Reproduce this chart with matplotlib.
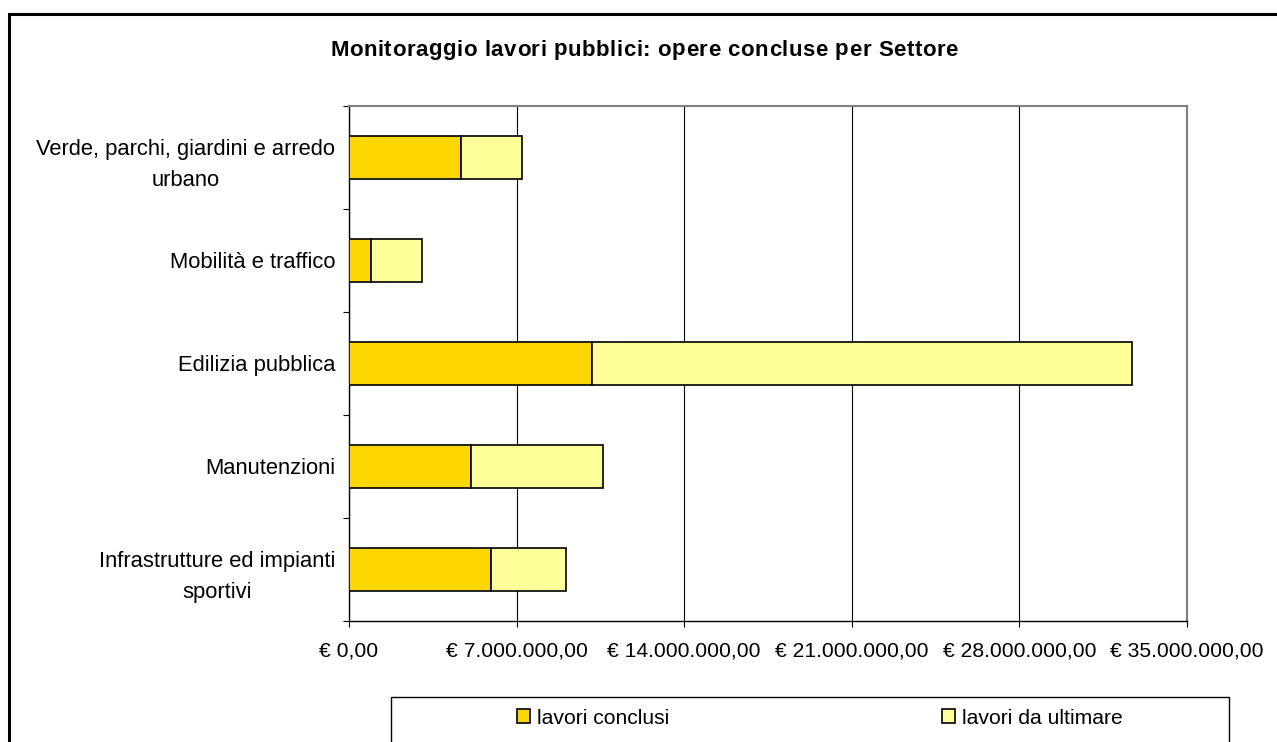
import matplotlib.pyplot as plt
from matplotlib.patches import Rectangle
from matplotlib.ticker import FuncFormatter, FixedLocator

# Dati (dal basso verso l'alto, come in Excel)
settori = ["Infrastrutture ed impianti\nsportivi", "Manutenzioni", "Edilizia pubblica",
           "Mobilità e traffico", "Verde, parchi, giardini e arredo\nurbano"]
lavori_conclusi = [5930000, 5100000, 10150000, 920000, 4680000]
lavori_da_ultimare = [3130000, 5510000, 22550000, 2130000, 2550000]
x_ticks = [0, 7000000, 14000000, 21000000, 28000000, 35000000]
titolo = "Monitoraggio lavori pubblici: opere concluse per Settore"

plt.rcParams['font.family'] = ['Liberation Sans', 'DejaVu Sans']

W, H = 1277, 742
fig = plt.figure(figsize=(W / 100, H / 100), dpi=100)

# Cornice esterna del grafico
fig.patches.append(Rectangle((9 / W, -0.1), 1.2, 1 - 14 / H + 0.1, transform=fig.transFigure,
                             fill=False, edgecolor='black', linewidth=2.2, zorder=0))

ax = fig.add_axes([349 / W, 1 - 621 / H, (1187 - 349) / W, (621 - 106) / H])

pos = list(range(len(settori)))
ax.barh(pos, lavori_conclusi, height=0.42, color='#FFD700', edgecolor='black',
        linewidth=1.2, label='lavori conclusi', zorder=3)
ax.barh(pos, lavori_da_ultimare, left=lavori_conclusi, height=0.42, color='#FFFF99',
        edgecolor='black', linewidth=1.2, label='lavori da ultimare', zorder=3)

ax.set_xlim(0, 35000000)
ax.set_ylim(-0.5, len(settori) - 0.5)
ax.set_xticks(x_ticks)


def euro(v, p):
    s = f"{v:,.2f}".replace(",", "X").replace(".", ",").replace("X", ".")
    return "€ " + s


ax.xaxis.set_major_formatter(FuncFormatter(euro))
ax.grid(axis='x', color='black', linewidth=0.8, zorder=1)

ax.set_yticks(pos)
ax.set_yticklabels(settori, multialignment='center', linespacing=1.6)
ax.yaxis.set_minor_locator(FixedLocator([i - 0.5 for i in range(len(settori) + 1)]))
ax.tick_params(axis='y', which='major', length=0, pad=10, labelsize=15.8)
ax.tick_params(axis='y', which='minor', length=4.5, width=0.8, direction='out')
ax.tick_params(axis='x', length=4.5, width=0.8, pad=10, labelsize=15.2)

for s in ['top', 'right']:
    ax.spines[s].set_color('#808080')
    ax.spines[s].set_linewidth(1.5)
for s in ['left', 'bottom']:
    ax.spines[s].set_color('black')
    ax.spines[s].set_linewidth(1.0)

# Titolo con spaziatura tra le lettere (come in Excel)
renderer = fig.canvas.get_renderer()
tfont = dict(fontsize=16, fontweight='bold')


def larghezza(s):
    t = fig.text(0, 0, s + "x", **tfont)
    w = t.get_window_extent(renderer).width
    t.remove()
    return w


w_x = larghezza("")
offs = [larghezza(titolo[:i]) - w_x for i in range(len(titolo))]
w_tot = larghezza(titolo) - w_x
target = 958 - 330
track = (target - w_tot) / (len(titolo) - 1)
x0 = 330
for i, ch in enumerate(titolo):
    fig.text((x0 + offs[i] + i * track) / W, 1 - 50 / H, ch, ha='left', va='center', **tfont)

# Legenda
fig.patches.append(Rectangle((391 / W, -0.1), (1229 - 391) / W, 1 - 697 / H + 0.1,
                             transform=fig.transFigure, fill=False, edgecolor='black',
                             linewidth=1.0, zorder=0))
h, l = ax.get_legend_handles_labels()
fig.legend(h, l, loc='center', bbox_to_anchor=(820 / W, 1 - 718 / H), ncol=2, frameon=False,
           fontsize=15.2, handlelength=0.6, handleheight=0.6, handletextpad=0.35,
           columnspacing=12.9)

fig.savefig('out.png', dpi=100)
